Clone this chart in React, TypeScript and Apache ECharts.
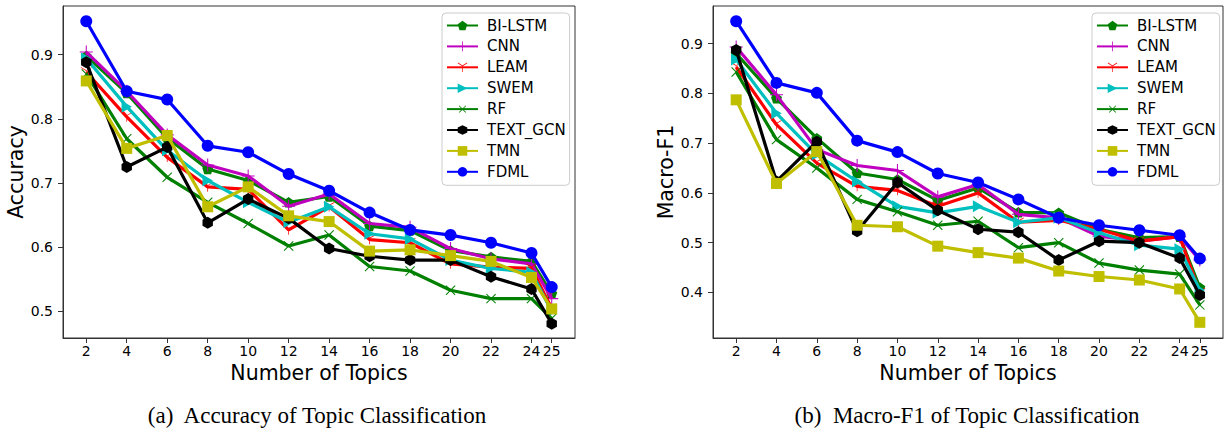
import React, { useEffect, useRef } from "react";
import * as echarts from "echarts";

const topics = [2, 4, 6, 8, 10, 12, 14, 16, 18, 20, 22, 24, 25];
const xTickValues = [2, 4, 6, 8, 10, 12, 14, 16, 18, 20, 22, 24, 25];
const accTicks = [0.5, 0.6, 0.7, 0.8, 0.9];
const f1Ticks = [0.4, 0.5, 0.6, 0.7, 0.8, 0.9];

const methods = ["BI-LSTM", "CNN", "LEAM", "SWEM", "RF", "TEXT_GCN", "TMN", "FDML"];

const biLstmAcc = [0.898, 0.84, 0.77, 0.722, 0.704, 0.67, 0.679, 0.633, 0.626, 0.595, 0.585, 0.578, 0.528];
const cnnAcc = [0.904, 0.843, 0.775, 0.728, 0.711, 0.664, 0.683, 0.637, 0.631, 0.598, 0.582, 0.574, 0.52];
const leamAcc = [0.873, 0.803, 0.74, 0.694, 0.69, 0.627, 0.663, 0.612, 0.607, 0.574, 0.569, 0.567, 0.505];
const swemAcc = [0.894, 0.819, 0.751, 0.704, 0.67, 0.639, 0.663, 0.621, 0.613, 0.58, 0.567, 0.561, 0.5];
const rfAcc = [0.87, 0.769, 0.709, 0.67, 0.637, 0.602, 0.619, 0.57, 0.563, 0.533, 0.52, 0.52, 0.489];
const gcnAcc = [0.888, 0.725, 0.756, 0.638, 0.675, 0.645, 0.598, 0.586, 0.58, 0.58, 0.554, 0.535, 0.481];
const tmnAcc = [0.859, 0.754, 0.774, 0.663, 0.694, 0.649, 0.64, 0.594, 0.596, 0.587, 0.578, 0.553, 0.504];
const fdmlAcc = [0.952, 0.843, 0.83, 0.758, 0.748, 0.714, 0.688, 0.654, 0.627, 0.619, 0.607, 0.591, 0.538];

const biLstmF1 = [0.88, 0.79, 0.71, 0.64, 0.627, 0.585, 0.61, 0.561, 0.56, 0.527, 0.51, 0.512, 0.41];
const cnnF1 = [0.893, 0.797, 0.687, 0.655, 0.645, 0.592, 0.617, 0.557, 0.55, 0.513, 0.503, 0.512, 0.465];
const leamF1 = [0.853, 0.737, 0.66, 0.613, 0.605, 0.573, 0.6, 0.541, 0.545, 0.527, 0.503, 0.512, 0.4];
const swemF1 = [0.868, 0.76, 0.677, 0.623, 0.573, 0.56, 0.573, 0.541, 0.55, 0.52, 0.495, 0.487, 0.405];
const rfF1 = [0.843, 0.707, 0.65, 0.587, 0.562, 0.535, 0.543, 0.49, 0.5, 0.459, 0.445, 0.437, 0.375];
const gcnF1 = [0.887, 0.623, 0.703, 0.523, 0.621, 0.565, 0.527, 0.521, 0.465, 0.503, 0.5, 0.469, 0.395];
const tmnF1 = [0.787, 0.619, 0.683, 0.535, 0.532, 0.493, 0.48, 0.469, 0.443, 0.432, 0.425, 0.407, 0.34];
const fdmlF1 = [0.945, 0.821, 0.801, 0.705, 0.682, 0.639, 0.621, 0.587, 0.55, 0.535, 0.525, 0.515, 0.468];

const accSeries = [biLstmAcc, cnnAcc, leamAcc, swemAcc, rfAcc, gcnAcc, tmnAcc, fdmlAcc];
const f1Series = [biLstmF1, cnnF1, leamF1, swemF1, rfF1, gcnF1, tmnF1, fdmlF1];

const colors = ["#008000", "#bf00bf", "#ff0000", "#00bfbf", "#008000", "#000000", "#bfbf00", "#0000ff"];

const PENTAGON = "path://M0,-10 L9.51,-3.09 L5.88,8.09 L-5.88,8.09 L-9.51,-3.09 Z";
const HEXAGON = "path://M0,-10 L8.66,-5 L8.66,5 L0,10 L-8.66,5 L-8.66,-5 Z";
const PLUS = "path://M-0.8,-10 H0.8 V-0.8 H10 V0.8 H0.8 V10 H-0.8 V0.8 H-10 V-0.8 H-0.8 Z";
const TRI_RIGHT = "path://M10,0 L-5,8.66 L-5,-8.66 Z";
const TRI_DOWN =
  "path://M-0.6,0 L0.6,0 L0.6,10 L-0.6,10 Z M0.3,0.52 L8.96,-4.48 L8.36,-5.52 L-0.3,-0.52 Z M-0.3,0.52 L0.3,-0.52 L-8.36,-5.52 L-8.96,-4.48 Z";

const symbols = [
  { symbol: PENTAGON, size: 11, rotate: 0 },
  { symbol: PLUS, size: 13, rotate: 0 },
  { symbol: TRI_DOWN, size: 11, rotate: 0 },
  { symbol: TRI_RIGHT, size: 12, rotate: 0 },
  { symbol: PLUS, size: 13, rotate: 45 },
  { symbol: HEXAGON, size: 12, rotate: 0 },
  { symbol: "rect", size: 11, rotate: 0 },
  { symbol: "circle", size: 12, rotate: 0 },
];

const FONT = "DejaVu Sans";

function makeX(gridIndex: number) {
  return {
    type: "value",
    gridIndex,
    min: 0.85,
    max: 26.15,
    name: "Number of Topics",
    nameLocation: "middle",
    nameGap: 24,
    nameTextStyle: { fontSize: 20.5, color: "#000", fontFamily: FONT },
    axisLine: { show: true, lineStyle: { color: "#333", width: 1 } },
    axisTick: { show: true, customValues: xTickValues, length: 5, lineStyle: { color: "#333" } },
    axisLabel: {
      customValues: xTickValues,
      fontSize: 14,
      color: "#000",
      fontFamily: FONT,
      margin: 6,
      formatter: (v: number) => String(v),
    },
    splitLine: { show: false },
  };
}

function makeY(gridIndex: number, min: number, max: number, ticks: number[], name: string) {
  return {
    type: "value",
    gridIndex,
    min,
    max,
    name,
    nameLocation: "middle",
    nameGap: 35,
    nameTextStyle: { fontSize: 20.5, color: "#000", fontFamily: FONT },
    axisLine: { show: true, lineStyle: { color: "#333", width: 1 } },
    axisTick: { show: true, customValues: ticks, length: 5, lineStyle: { color: "#333" } },
    axisLabel: {
      customValues: ticks,
      fontSize: 14,
      color: "#000",
      fontFamily: FONT,
      margin: 10,
      formatter: (v: number) => v.toFixed(1),
    },
    splitLine: { show: false },
  };
}

function makeSeries(gridIndex: number, data: number[][]) {
  return methods.map((name, i) => ({
    type: "line",
    name,
    xAxisIndex: gridIndex,
    yAxisIndex: gridIndex,
    data: topics.map((t, j) => [t, data[i][j]]),
    symbol: symbols[i].symbol,
    symbolSize: symbols[i].size,
    symbolRotate: symbols[i].rotate,
    symbolKeepAspect: true,
    showSymbol: true,
    lineStyle: { width: 3.2, color: colors[i] },
    itemStyle: { color: colors[i] },
    z: 2 + i,
  }));
}

function makeLegend(left: number) {
  return {
    data: methods,
    orient: "vertical",
    left,
    top: 13,
    itemWidth: 31,
    itemHeight: 12,
    itemGap: 5.9,
    padding: [5, 4, 6, 4],
    borderColor: "#cccccc",
    borderWidth: 1,
    borderRadius: 4,
    backgroundColor: "#ffffff",
    textStyle: { fontSize: 15, color: "#000", fontFamily: FONT, padding: [0, 0, 0, 4] },
    selectedMode: false,
  };
}

export default function App() {
  const ref = useRef<HTMLDivElement>(null);
  useEffect(() => {
    if (!ref.current) return;
    const chart = echarts.init(ref.current, null, { renderer: "svg" });
    chart.setOption({
      animation: false,
      backgroundColor: "#ffffff",
      grid: [
        { left: 63, top: 6, width: 512, height: 332, show: true, borderColor: "#333", borderWidth: 1 },
        { left: 713, top: 6, width: 510, height: 332, show: true, borderColor: "#333", borderWidth: 1 },
      ],
      xAxis: [makeX(0), makeX(1)],
      yAxis: [
        makeY(0, 0.4587, 0.9757, accTicks, "Accuracy"),
        makeY(1, 0.3085, 0.9755, f1Ticks, "Macro-F1"),
      ],
      legend: [makeLegend(442), makeLegend(1092)],
      series: [...makeSeries(0, accSeries), ...makeSeries(1, f1Series)],
      graphic: [
        {
          type: "text",
          x: 317,
          y: 415,
          style: {
            text: "(a)  Accuracy of Topic Classification",
            font: '23px "Liberation Serif"',
            fill: "#000",
            align: "center",
            verticalAlign: "middle",
          },
        },
        {
          type: "text",
          x: 967,
          y: 415,
          style: {
            text: "(b)  Macro-F1 of Topic Classification",
            font: '23px "Liberation Serif"',
            fill: "#000",
            align: "center",
            verticalAlign: "middle",
          },
        },
      ],
    });
    return () => chart.dispose();
  }, []);
  return (
    <div
      ref={ref}
      style={{ position: "absolute", left: 0, top: 0, width: 1229, height: 435, background: "#fff" }}
    />
  );
}
